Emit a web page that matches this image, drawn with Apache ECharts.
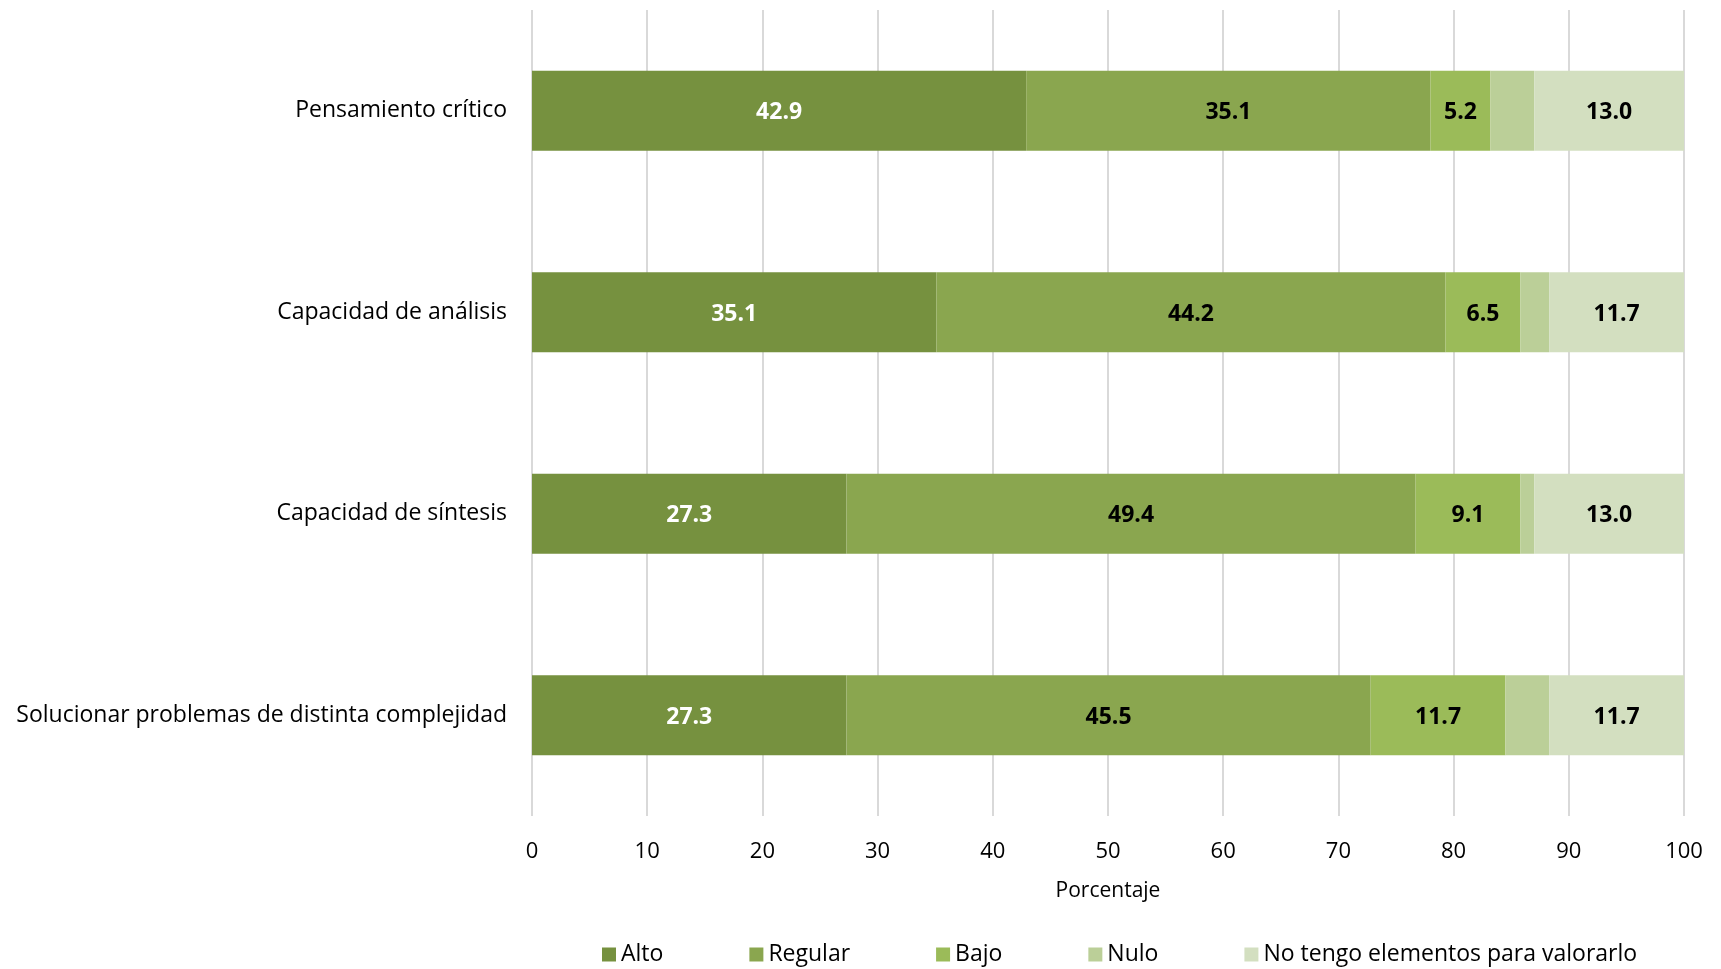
<!DOCTYPE html>
<html>
<head>
<meta charset="utf-8">
<script src="https://cdn.jsdelivr.net/npm/echarts@6/dist/echarts.min.js"></script>
<style>
html,body{margin:0;padding:0;background:#fff;}
#chart{width:1721px;height:969px;}
</style>
</head>
<body>
<div id="chart"></div>
<script>
const categories = ["Pensamiento crítico", "Capacidad de análisis", "Capacidad de síntesis", "Solucionar problemas de distinta complejidad"];
const seriesNames = ["Alto", "Regular", "Bajo", "Nulo", "No tengo elementos para valorarlo"];
const alto = [42.9, 35.1, 27.3, 27.3];
const regular = [35.1, 44.2, 49.4, 45.5];
const bajo = [5.2, 6.5, 9.1, 11.7];
const nulo = [3.8, 2.5, 1.2, 3.8];
const noTengo = [13.0, 11.7, 13.0, 11.7];
const xTicks = [0, 10, 20, 30, 40, 50, 60, 70, 80, 90, 100];

const colors = ["#76913F", "#8AA64F", "#9BBB59", "#BBCF98", "#D3DFC0"];
const labelColors = ["#ffffff", "#000000", "#000000", "#000000", "#000000"];
const showLabels = [true, true, true, false, true];
const values = [alto, regular, bajo, nulo, noTengo];
const FONT = "Open Sans";

const series = seriesNames.map((name, i) => ({
  name: name,
  type: "bar",
  stack: "total",
  barWidth: 80,
  data: values[i],
  itemStyle: { color: colors[i] },
  label: {
    show: showLabels[i],
    position: "inside",
    color: labelColors[i],
    fontFamily: FONT,
    fontWeight: "bold",
    fontSize: 23,
    offset: [0, 2],
    formatter: p => p.value.toFixed(1)
  },
  emphasis: { disabled: true }
}));

const chart = echarts.init(document.getElementById("chart"));
chart.setOption({
  animation: false,
  textStyle: { fontFamily: FONT },
  grid: { left: 532, right: 37, top: 10, bottom: 153, containLabel: false },
  xAxis: {
    type: "value",
    min: xTicks[0],
    max: xTicks[xTicks.length - 1],
    interval: 10,
    name: "Porcentaje",
    nameLocation: "middle",
    nameGap: 65,
    nameTextStyle: { fontFamily: FONT, fontSize: 21, color: "#000" },
    axisLine: { show: false },
    axisTick: { show: false },
    axisLabel: { fontFamily: FONT, fontSize: 22, color: "#000", margin: 25 },
    splitLine: { show: true, showMinLine: true, showMaxLine: true, lineStyle: { color: "#D9D9D9", width: 2 } }
  },
  yAxis: {
    type: "category",
    inverse: true,
    data: categories,
    axisLine: { show: false },
    axisTick: { show: false },
    axisLabel: { fontFamily: FONT, fontSize: 23, color: "#000", margin: 25, lineHeight: 30, verticalAlign: "middle", padding: [6, 0, 0, 0] }
  },
  legend: {
    data: seriesNames,
    left: 597,
    top: 938,
    itemWidth: 14,
    itemHeight: 14,
    itemGap: 86,
    icon: "rect",
    textStyle: { fontFamily: FONT, fontSize: 23, color: "#000" }
  },
  series: series
});
</script>
</body>
</html>
